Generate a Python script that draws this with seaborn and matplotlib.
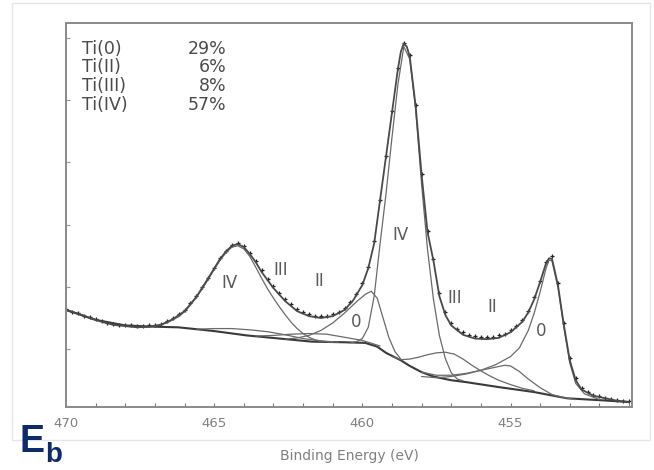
import numpy as np
import pandas as pd
import matplotlib
matplotlib.use("Agg")
import matplotlib.pyplot as plt
from matplotlib.patches import Rectangle
import seaborn as sns

# ---- Ti 2p spectrum: measured counts (arb. units) on a 0.2 eV step grid ----
data_be = np.round(np.arange(470.0, 450.95, -0.2), 1)
data_counts = [
    1.64, 1.60, 1.58, 1.54, 1.51, 1.48, 1.45, 1.42, 1.41, 1.39,
    1.39, 1.38, 1.37, 1.37, 1.38, 1.39, 1.41, 1.45, 1.50, 1.56,
    1.63, 1.74, 1.86, 2.00, 2.15, 2.31, 2.46, 2.58, 2.67, 2.70,
    2.66, 2.55, 2.42, 2.27, 2.13, 2.01, 1.90, 1.80, 1.72, 1.65,
    1.60, 1.56, 1.54, 1.53, 1.53, 1.56, 1.60, 1.66, 1.76, 1.89,
    2.06, 2.32, 2.74, 3.40, 4.10, 4.82, 5.52, 5.92, 5.72, 4.92,
    3.82, 2.90, 2.45, 1.90, 1.60, 1.42, 1.32, 1.27, 1.23, 1.21,
    1.20, 1.20, 1.20, 1.22, 1.25, 1.30, 1.37, 1.47, 1.62, 1.83,
    2.10, 2.40, 2.49, 2.06, 1.42, 0.86, 0.54, 0.38, 0.31, 0.27,
    0.24, 0.22, 0.20, 0.18, 0.17, 0.16,
]

# ---- fitted envelope ----
fit_be = [470.0, 469.6, 469.2, 468.8, 468.4, 468.0, 467.6, 467.2, 466.8, 466.4,
          466.0, 465.6, 465.2, 464.8, 464.6, 464.4, 464.2, 464.0, 463.8, 463.6,
          463.4, 463.0, 462.6, 462.2, 461.8, 461.4, 461.0, 460.6, 460.3, 460.0,
          459.8, 459.6, 459.4, 459.2, 459.0, 458.8, 458.7, 458.6, 458.5, 458.4,
          458.2, 458.0, 457.8, 457.6, 457.4, 457.2, 457.0, 456.6, 456.2, 455.8,
          455.4, 455.0, 454.6, 454.4, 454.2, 454.0, 453.8, 453.7, 453.6, 453.4,
          453.2, 453.0, 452.8, 452.6, 452.2, 451.8, 451.4, 451.0]
fit_counts = [1.63, 1.57, 1.50, 1.44, 1.39, 1.37, 1.35, 1.36, 1.39, 1.48,
              1.61, 1.84, 2.14, 2.45, 2.57, 2.66, 2.69, 2.64, 2.53, 2.40,
              2.24, 1.98, 1.77, 1.61, 1.53, 1.50, 1.53, 1.63, 1.79, 2.03,
              2.30, 2.70, 3.40, 4.10, 4.80, 5.50, 5.78, 5.91, 5.86, 5.70,
              4.90, 3.80, 2.88, 2.42, 1.85, 1.55, 1.38, 1.23, 1.17, 1.16,
              1.18, 1.27, 1.44, 1.59, 1.80, 2.08, 2.38, 2.46, 2.45, 2.03,
              1.39, 0.82, 0.50, 0.35, 0.25, 0.21, 0.17, 0.15]

# ---- Shirley background ----
bg_be = [470.0, 469.0, 468.0, 467.0, 466.2, 465.0, 463.9, 462.8, 461.7, 460.6,
         459.9, 459.5, 459.2, 458.7, 458.4, 458.0, 457.6, 457.0, 456.5, 455.4,
         454.2, 453.1, 452.0, 451.0]
bg_counts = [1.63, 1.47, 1.38, 1.36, 1.35, 1.29, 1.22, 1.17, 1.12, 1.11,
             1.10, 1.04, 0.94, 0.82, 0.73, 0.63, 0.56, 0.50, 0.47, 0.39,
             0.31, 0.21, 0.18, 0.15]

# ---- fitted components (each drawn on top of the background) ----
ti4_a_be = [467.4, 467.0, 466.6, 466.2, 466.0, 465.8, 465.6, 465.4, 465.2, 465.0,
            464.8, 464.6, 464.4, 464.2, 464.0, 463.8, 463.6, 463.4, 463.2, 463.0,
            462.8, 462.6, 462.4, 462.2, 462.0, 461.8, 461.6, 461.4, 461.0]
ti4_a_counts = [1.35, 1.37, 1.42, 1.52, 1.60, 1.71, 1.83, 1.97, 2.12, 2.28,
                2.43, 2.55, 2.64, 2.66, 2.61, 2.49, 2.32, 2.14, 1.97, 1.82,
                1.68, 1.55, 1.43, 1.33, 1.25, 1.19, 1.15, 1.13, 1.11]
ti4_b_be = [460.4, 460.2, 460.0, 459.8, 459.6, 459.4, 459.2, 459.0, 458.8, 458.6,
            458.4, 458.2, 458.0, 457.8, 457.6, 457.4, 457.2, 457.0, 456.8, 456.6]
ti4_b_counts = [1.10, 1.12, 1.17, 1.35, 1.85, 2.70, 3.50, 4.40, 5.25, 5.86,
                5.66, 4.85, 3.65, 2.60, 1.80, 1.22, 0.85, 0.62, 0.52, 0.49]

ti0_a_be = [462.6, 462.2, 461.8, 461.4, 461.0, 460.6, 460.2, 459.9, 459.7, 459.5,
            459.3, 459.1, 458.9, 458.7]
ti0_a_counts = [1.16, 1.18, 1.22, 1.30, 1.42, 1.58, 1.76, 1.88, 1.93, 1.82,
                1.50, 1.18, 0.96, 0.84]
ti0_b_be = [458.0, 457.5, 457.0, 456.5, 456.0, 455.5, 455.0, 454.7, 454.4, 454.2,
            454.0, 453.8, 453.7, 453.6, 453.4, 453.2, 453.0, 452.8, 452.5, 452.0]
ti0_b_counts = [0.56, 0.54, 0.56, 0.60, 0.66, 0.75, 0.88, 1.02, 1.30, 1.58,
                1.92, 2.30, 2.43, 2.42, 2.00, 1.35, 0.78, 0.45, 0.28, 0.19]

ti3_a_be = [465.6, 465.0, 464.4, 463.8, 463.2, 462.6, 462.0, 461.4, 460.8]
ti3_a_counts = [1.32, 1.33, 1.33, 1.31, 1.28, 1.23, 1.17, 1.13, 1.11]
ti3_b_be = [459.0, 458.7, 458.4, 458.1, 457.8, 457.5, 457.2, 456.9, 456.6, 456.3,
            456.0, 455.7, 455.4, 455.0, 454.6, 454.2]
ti3_b_counts = [0.88, 0.83, 0.84, 0.87, 0.91, 0.94, 0.95, 0.92, 0.84, 0.74,
                0.65, 0.57, 0.50, 0.43, 0.37, 0.33]

ti2_a_be = [463.6, 463.0, 462.4, 461.8, 461.2, 460.6, 460.0, 459.4]
ti2_a_counts = [1.21, 1.22, 1.24, 1.25, 1.24, 1.19, 1.14, 1.05]
ti2_b_be = [458.0, 457.5, 457.0, 456.5, 456.0, 455.6, 455.2, 455.0, 454.7, 454.4,
            454.0, 453.6, 453.2, 452.8]
ti2_b_counts = [0.63, 0.58, 0.58, 0.61, 0.66, 0.70, 0.74, 0.73, 0.64, 0.52,
                0.38, 0.27, 0.22, 0.19]

# ---- composition table and peak labels ----
species = ["Ti(0)", "Ti(II)", "Ti(III)", "Ti(IV)"]
fractions = [29, 6, 8, 57]
peak_label_text = ["IV", "III", "II", "0", "IV", "III", "II", "0"]
peak_label_be = [464.48, 462.75, 461.45, 460.2, 458.7, 456.9, 455.6, 453.95]
peak_label_counts = [2.06, 2.27, 2.09, 1.43, 2.83, 1.82, 1.67, 1.29]

x_major = [470, 465, 460, 455]

sns.set_theme(style="white")
plt.rcParams["font.family"] = ["DejaVu Sans"]

fig = plt.figure(figsize=(6.54, 4.70), dpi=100)
ax = fig.add_axes([66 / 654, 1 - 407 / 470, (632 - 66) / 654, (407 - 23) / 470])

comp_kw = dict(color="#6a6a6a", linewidth=0.9, sort=False, estimator=None, legend=False)

sns.lineplot(x=bg_be, y=bg_counts, ax=ax, color="#3a3a3a", linewidth=1.5,
             sort=False, estimator=None, legend=False)
for be, cts in [(ti4_a_be, ti4_a_counts), (ti4_b_be, ti4_b_counts),
                (ti0_a_be, ti0_a_counts), (ti0_b_be, ti0_b_counts),
                (ti3_a_be, ti3_a_counts), (ti3_b_be, ti3_b_counts),
                (ti2_a_be, ti2_a_counts), (ti2_b_be, ti2_b_counts)]:
    sns.lineplot(x=be, y=cts, ax=ax, **comp_kw)

sns.lineplot(x=fit_be, y=fit_counts, ax=ax, color="#4a4a4a", linewidth=1.3,
             sort=False, estimator=None, legend=False)
sns.scatterplot(x=data_be, y=data_counts, ax=ax, marker="+", s=12,
                color="#222222", linewidth=0.9, legend=False)

ax.set_xlim(470, 450.9)
ax.set_ylim(0.07, 6.24)
ax.set_xticks(x_major)
ax.set_xticklabels([str(v) for v in x_major])
ax.set_xticks(np.arange(451, 470), minor=True)
ax.set_yticks([1, 2, 3, 4, 5, 6])
ax.set_yticklabels([])
ax.tick_params(axis="x", which="both", direction="in", length=3, width=0.8,
               color="#777777", labelsize=9.5, labelcolor="#808080", pad=7,
               bottom=True)
ax.tick_params(axis="y", which="both", direction="in", length=3, width=0.8,
               color="#999999", left=True)
for sp in ax.spines.values():
    sp.set_color("#8a8a8a")
    sp.set_linewidth(1.4)
ax.set_xlabel("Binding Energy (eV)", fontsize=10, color="#808080", labelpad=14)
ax.set_ylabel("")

# composition table
for i, (name, frac) in enumerate(zip(species, fractions)):
    y = 0.957 - i * 0.049
    ax.text(0.028, y, name, transform=ax.transAxes, fontsize=12.5, color="#4a4a4a",
            va="top", ha="left")
    ax.text(0.283, y, f"{frac}%", transform=ax.transAxes, fontsize=12.5,
            color="#4a4a4a", va="top", ha="right")

# component labels
for t, xb, yc in zip(peak_label_text, peak_label_be, peak_label_counts):
    ax.text(xb, yc, t, fontsize=12, color="#5a5a5a", ha="center", va="center")

# outer frame of the figure
fig.patches.append(Rectangle((12 / 654, 1 - 440 / 470), (650 - 12) / 654, 437 / 470,
                             transform=fig.transFigure, fill=False,
                             edgecolor="#e6e6e6", linewidth=1.0))

# E_b symbol
fig.text(20 / 654, 1 - 452 / 470, "E", fontsize=27, fontweight="bold",
         color="#0d2a6a", ha="left", va="baseline", family="Liberation Sans")
fig.text(45 / 654, 1 - 462 / 470, "b", fontsize=20, fontweight="bold",
         color="#0d2a6a", ha="left", va="baseline", family="Liberation Sans")

fig.savefig("out.png", dpi=100, facecolor="white")
